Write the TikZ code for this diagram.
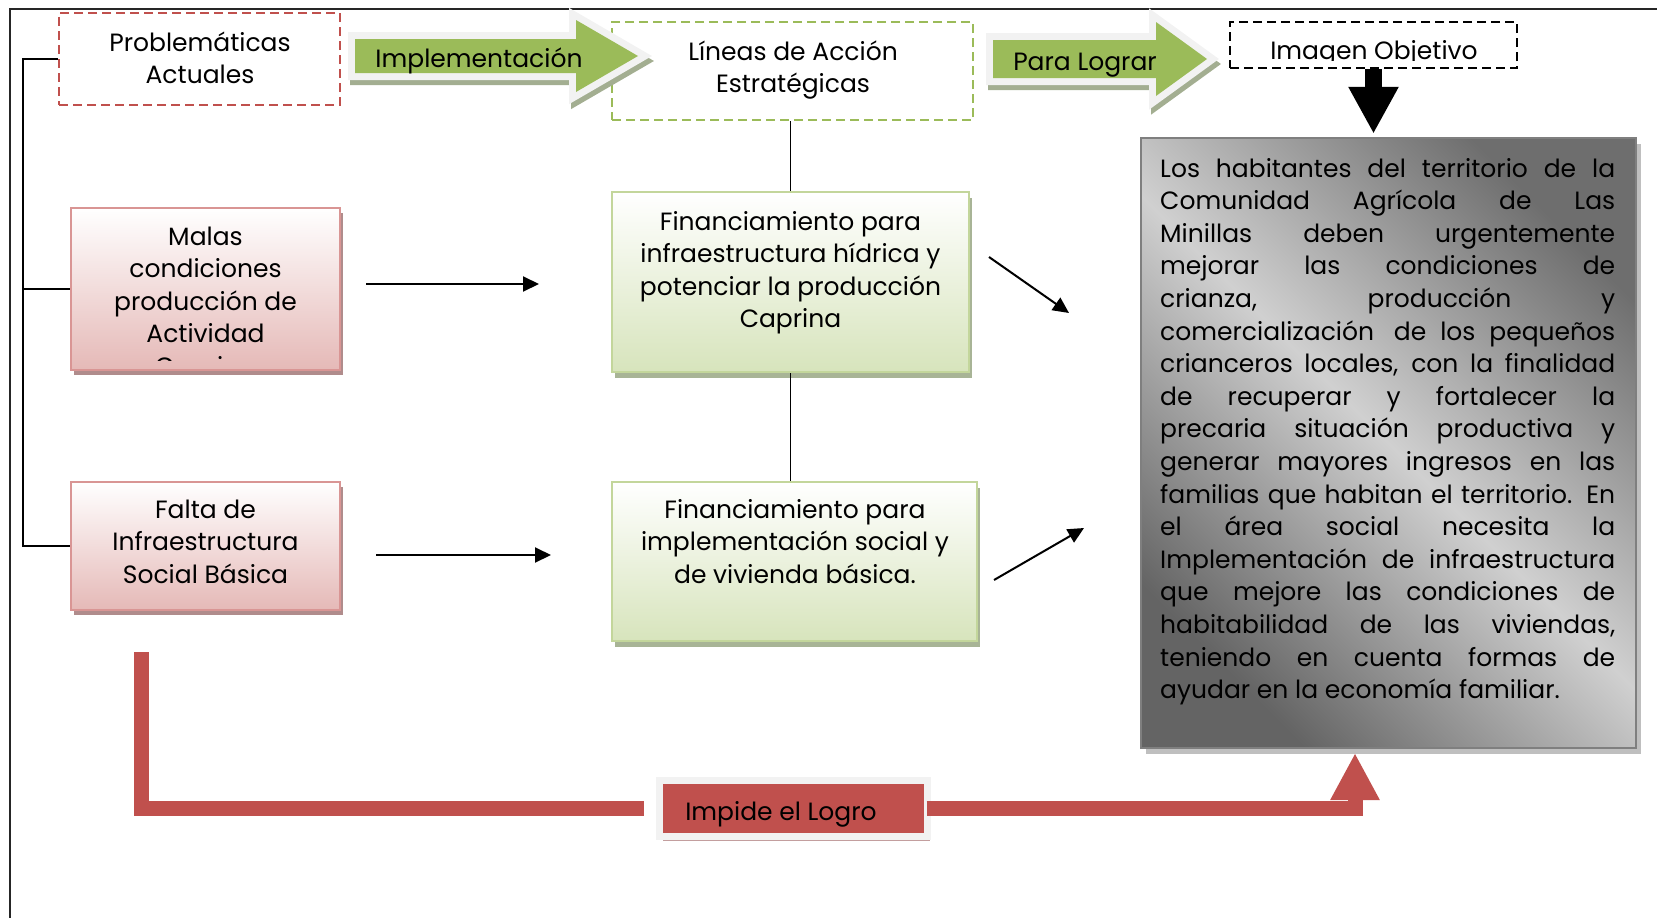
\documentclass[tikz,border=0pt]{standalone}
\usepackage{fontspec}
\setmainfont{Poppins}
\usetikzlibrary{arrows.meta,shadows,calc}

\definecolor{redA}{HTML}{C0504D}
\definecolor{greenA}{HTML}{9BBB59}
\definecolor{lightF}{HTML}{F2F2F2}
\definecolor{pinkBot}{HTML}{E5B9B7}
\definecolor{pinkEdge}{HTML}{D99594}
\definecolor{pinkShadow}{HTML}{B08C8C}
\definecolor{greenBot}{HTML}{D7E4BC}
\definecolor{greenEdge}{HTML}{C3D69B}
\definecolor{greenShadow}{HTML}{A8B496}
\definecolor{arrShadow}{HTML}{A3AE91}
\definecolor{grayEdge}{HTML}{7F7F7F}
\definecolor{grayShadow}{HTML}{BFBFBF}
\definecolor{impShadow}{HTML}{C39E9E}
\definecolor{grayDarkA}{HTML}{6E6E6E}
\definecolor{grayDarkB}{HTML}{646464}
\definecolor{grayLight}{HTML}{D0D0D0}

\begin{document}
\begin{tikzpicture}[x=1pt,y=-1pt,
  font=\fontsize{25}{32.6}\selectfont,
  dashbox/.style={line width=2.5pt, dash pattern=on 9pt off 5pt, inner sep=0pt},
  pinkbox/.style={top color=white, bottom color=pinkBot, draw=pinkEdge, line width=2.5pt, inner sep=0pt,
    drop shadow={shadow xshift=3pt, shadow yshift=-5pt, fill=pinkShadow, opacity=1}},
  greenbox/.style={top color=white, bottom color=greenBot, draw=greenEdge, line width=2.5pt, inner sep=0pt,
    drop shadow={shadow xshift=3pt, shadow yshift=-6pt, fill=greenShadow, opacity=1}},
  txt/.style={align=center, inner sep=0pt, anchor=north},
  conn/.style={line width=1.6pt, black},
  arr/.style={line width=2pt, black, -{Triangle[length=16pt,width=15pt]}},
  redbar/.style={line width=15pt, redA},
  blockout/.style={draw=lightF, line width=14pt, line join=miter},
  blockshadow/.style={draw=arrShadow, fill=arrShadow, line width=14pt, line join=miter}
]
\useasboundingbox (0,0) rectangle (1657,918);

% frame
\draw[line width=2pt, black!85] (1657,8.5) -- (9.5,8.5) -- (9.5,918);

% boxes
\node[dashbox, draw=redA, minimum width=281pt, minimum height=92pt] (prob) at (199.5,59) {};
\node[txt] (probt) at (200,28) {\strut Problemáticas\\Actuales};

\node[dashbox, draw=greenA, minimum width=361pt, minimum height=98pt] (lineas) at (792.5,71) {};
\node[txt] (lineast) at (793,37) {\strut Líneas de Acción\\Estratégicas};

\node[dashbox, draw=black, minimum width=287pt, minimum height=46pt] (imagen) at (1373.5,45) {};
\begin{scope}
  \clip (1231,23) rectangle (1516,60.5);
  \node[txt] (imagent) at (1374,36) {\strut Imagen Objetivo};
\end{scope}

\node[pinkbox, minimum width=269pt, minimum height=162pt] (malas) at (205.5,289) {};
\begin{scope}
  \clip (72,209) rectangle (339,360);
  \node[txt] (malast) at (205.5,222) {\strut Malas\\condiciones\\producción de\\Actividad\\Caprina};
\end{scope}

\node[pinkbox, minimum width=269pt, minimum height=128pt] (falta) at (205.5,546) {};
\node[txt] (faltat) at (205.5,495) {\strut Falta de\\Infraestructura\\Social Básica};

\node[greenbox, minimum width=357pt, minimum height=180pt] (fin1) at (790.5,282) {};
\node[txt] (fin1t) at (790.5,207) {\strut Financiamiento para\\infraestructura hídrica y\\potenciar la producción\\Caprina};

\node[greenbox, minimum width=365pt, minimum height=159pt] (fin2) at (794.5,561.5) {};
\node[txt] (fin2t) at (795,495) {\strut Financiamiento para\\implementación social y\\de vivienda básica.};

% gray box
\node[draw=grayEdge, line width=2.5pt, inner sep=0pt, minimum width=495pt, minimum height=610pt,
  top color=grayDarkA, bottom color=grayDarkB, middle color=grayLight, shading angle=-45,
  drop shadow={shadow xshift=5pt, shadow yshift=-6pt, fill=grayShadow, opacity=1}] (gray) at (1388.5,443) {};
\node[anchor=north west, inner sep=0pt, text width=455pt, align=justify] (grayt) at (1160,154)
{\strut Los habitantes del territorio de la\linebreak
Comunidad Agrícola de Las\linebreak
Minillas deben urgentemente\linebreak
mejorar las condiciones de\linebreak
crianza, producción y\linebreak
comercialización\hspace{6pt} de los pequeños\linebreak
crianceros locales, con la finalidad\linebreak
de recuperar y fortalecer la\linebreak
precaria situación productiva y\linebreak
generar mayores ingresos en las\linebreak
familias que habitan el territorio. En\linebreak
el área social necesita la\linebreak
Implementación de infraestructura\linebreak
que mejore las condiciones de\linebreak
habitabilidad de las viviendas,\linebreak
teniendo en cuenta formas de\linebreak
ayudar en la economía familiar.};

% bracket lines
\coordinate (brk) at (23,0);
\draw[conn] (prob.west) -- (prob.west -| brk) -- (falta.west -| brk) -- (falta.west);
\draw[conn] (malas.west -| brk) -- (malas.west);

% vertical connections
\draw[line width=1.4pt] (fin1.north |- lineas.south) -- (fin1.north);
\draw[line width=1.4pt] (fin1.south) -- (fin1.south |- fin2.north);

% small arrows
\coordinate (a1s) at (366,284); \coordinate (a1e) at (539,284);
\coordinate (a2s) at (376,555); \coordinate (a2e) at (551,555);
\coordinate (d1s) at (989,257); \coordinate (d1e) at (1069,313);
\coordinate (d2s) at (994,580); \coordinate (d2e) at (1084,528);
\draw[arr] (a1s) -- (a1e);
\draw[arr] (a2s) -- (a2e);
\draw[arr] (d1s) -- (d1e);
\draw[arr] (d2s) -- (d2e);

% block arrow: Implementacion
\begin{scope}[shift={(2,5)}]
\path[blockshadow] (355,39) -- (576,39) -- (576,20) -- (638,56) -- (576,92) -- (576,73) -- (355,73) -- cycle;
\end{scope}
\path[blockout] (355,39) -- (576,39) -- (576,20) -- (638,56) -- (576,92) -- (576,73) -- (355,73) -- cycle;
\fill[greenA] (355,39) -- (576,39) -- (576,20) -- (638,56) -- (576,92) -- (576,73) -- (355,73) -- cycle;
\node[txt] (implt) at (479,44) {\strut Implementación};

% block arrow: Para Lograr
\begin{scope}[shift={(2,5)}]
\path[blockshadow] (993,40) -- (1156,40) -- (1156,22) -- (1207,59) -- (1156,96) -- (1156,78) -- (993,78) -- cycle;
\end{scope}
\path[blockout] (993,40) -- (1156,40) -- (1156,22) -- (1207,59) -- (1156,96) -- (1156,78) -- (993,78) -- cycle;
\fill[greenA] (993,40) -- (1156,40) -- (1156,22) -- (1207,59) -- (1156,96) -- (1156,78) -- (993,78) -- cycle;
\node[txt] (parat) at (1085,47) {\strut Para Lograr};

% black down arrow
\draw[line width=17pt, -{Triangle[length=47pt,width=47pt]}, shorten >=3pt] (imagen.south) -- (imagen.south |- gray.north);

% Impide el Logro
\node[fill=redA, draw=lightF, line width=7pt, inner sep=0pt, minimum width=267.5pt, minimum height=56pt,
  drop shadow={shadow xshift=3pt, shadow yshift=-5pt, fill=impShadow, opacity=1}] (impide) at (793.25,808) {};
\node[txt] (impidet) at (781,797) {\strut Impide el Logro};

% red connectors
\coordinate (rs) at (141,652);
\coordinate (rt) at (1355,753);
\draw[redbar] (rs) |- ($(impide.west)+(-12.5,0)$);
\draw[redbar, -{Triangle[length=47pt,width=46pt]}] ($(impide.east)+(-4,0)$) -| (rt);
\end{tikzpicture}
\end{document}
